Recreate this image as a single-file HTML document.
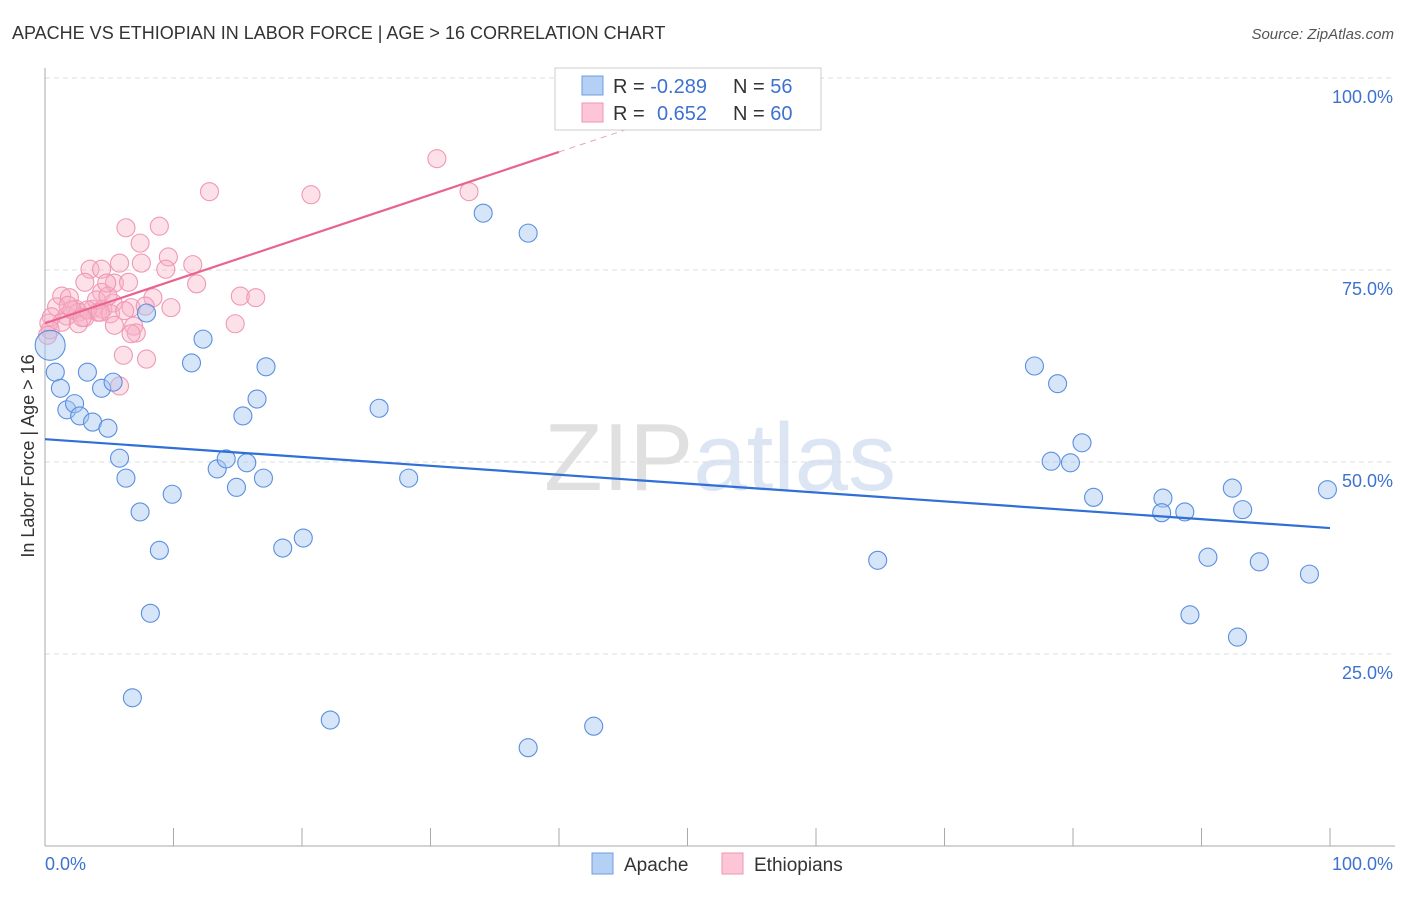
<!DOCTYPE html>
<html><head><meta charset="utf-8"><style>
body{margin:0;background:#fff;font-family:"Liberation Sans",sans-serif;}
svg text{font-family:"Liberation Sans",sans-serif;}
</style></head><body>
<svg width="1406" height="892" xmlns="http://www.w3.org/2000/svg">
<text x="12" y="39" font-size="18" fill="#333">APACHE VS ETHIOPIAN IN LABOR FORCE | AGE &gt; 16 CORRELATION CHART</text>
<text x="1394" y="39" font-size="15" fill="#555" font-style="italic" text-anchor="end">Source: ZipAtlas.com</text>
<text x="720" y="490" font-size="96" fill="#e4e4e4" text-anchor="middle" font-family="Liberation Serif"><tspan fill="#e0e0e0">ZIP</tspan><tspan fill="#dbe5f4" font-family="Liberation Sans">atlas</tspan></text>
<g id="grid"></g>
<g id="axes"></g>
<g id="marks"></g>
<text transform="translate(34,456) rotate(-90)" font-size="18" fill="#333" text-anchor="middle">In Labor Force | Age &gt; 16</text>
<g>
<rect x="555" y="68" width="266" height="62" fill="#fff" stroke="#ccc"/>
<rect x="582" y="76" width="21" height="19" fill="#b5d0f5" stroke="#6d9ee0"/>
<rect x="582" y="103" width="21" height="19" fill="#fcc6d6" stroke="#ef94b4"/>
<text x="613" y="93" font-size="20" fill="#333">R = <tspan fill="#3d72d0">-0.289</tspan><tspan x="733">N = </tspan><tspan fill="#3d72d0">56</tspan></text>
<text x="613" y="120" font-size="20" fill="#333">R = <tspan x="657" fill="#3d72d0">0.652</tspan><tspan x="733">N = </tspan><tspan fill="#3d72d0">60</tspan></text>
</g>
<g>
<rect x="592" y="853" width="21" height="21" fill="#b5d0f5" stroke="#6d9ee0"/>
<text x="624" y="871" font-size="19" fill="#333">Apache</text>
<rect x="722" y="853" width="21" height="21" fill="#fcc6d6" stroke="#ef94b4"/>
<text x="754" y="871" font-size="19" fill="#333">Ethiopians</text>
</g>
</svg>
<script>
const apacheX=[0.4,0.8,1.2,1.7,2.3,2.7,3.3,3.7,4.4,4.9,5.3,5.8,6.3,7.4,7.9,8.2,8.9,9.9,11.4,12.3,13.4,14.1,14.9,15.4,15.7,16.5,17.0,17.2,18.5,20.1,22.2,6.8,26.0,28.3,34.1,37.6,37.6,42.7,64.8,77.0,78.3,78.8,79.8,80.7,81.6,87.0,86.9,88.7,90.5,89.1,92.4,93.2,92.8,94.5,98.4,99.8];
const apacheY=[65.2,61.7,59.6,56.8,57.6,56.0,61.7,55.2,59.6,54.4,60.4,50.5,47.9,43.5,69.4,30.3,38.5,45.8,62.9,66.0,49.1,50.4,46.7,56.0,49.9,58.2,47.9,62.4,38.8,40.1,16.4,19.3,57.0,47.9,82.4,79.8,12.8,15.6,37.2,62.5,50.1,60.2,49.9,52.5,45.4,45.3,43.4,43.5,37.6,30.1,46.6,43.8,27.2,37.0,35.4,46.4];
const ethX=[12.8,20.7,30.5,33.0,6.3,8.9,7.4,9.6,5.8,7.5,11.5,3.5,4.4,9.4,11.8,5.4,3.1,6.5,4.4,8.4,15.2,16.4,1.3,1.9,0.9,2.4,3.7,4.5,5.3,6.7,9.8,0.5,1.7,2.6,3.1,4.1,5.1,6.2,1.3,2.6,5.4,6.9,7.1,0.3,0.4,14.8,6.1,7.9,5.8,0.2,4.0,3.3,2.1,4.9,7.8,1.8,4.8,4.3,2.9,6.7];
const ethY=[85.2,84.8,89.5,85.2,80.5,80.7,78.5,76.7,75.9,75.9,75.7,75.1,75.1,75.1,73.2,73.3,73.4,73.4,72.1,71.4,71.6,71.4,71.6,71.4,70.2,69.9,69.9,69.9,70.7,70.1,70.1,68.9,69.0,69.5,68.8,69.5,69.3,69.7,68.2,68.0,67.8,67.7,66.8,68.1,67.2,68.0,63.9,63.4,59.9,66.5,71.1,69.8,69.8,71.6,70.3,70.4,73.3,69.5,68.8,66.7];
const yTicks=[25,50,75,100];
const yTickLabels=["25.0%","50.0%","75.0%","100.0%"];
const xTicks=[0,10,20,30,40,50,60,70,80,90,100];
const NS="http://www.w3.org/2000/svg";
const sx=v=>45+v*12.85, sy=v=>846-v*7.68;
function mk(t,a,p){const e=document.createElementNS(NS,t);for(const k in a)e.setAttribute(k,a[k]);document.getElementById(p).appendChild(e);return e;}
yTicks.forEach((t,i)=>{
 const l=mk('line',{x1:45,x2:1395,y1:sy(t),y2:sy(t),stroke:'#ddd','stroke-dasharray':'5,4'},'grid');
 
 
 const tx=mk('text',{x:1393,y:sy(t)+25,'font-size':18,fill:'#3d72d0','text-anchor':'end'},'grid');
 tx.textContent=yTickLabels[i];
 
 
});
let ax=mk('line',{x1:45,x2:45,y1:68,y2:846,stroke:'#aaa'},'axes');


ax=mk('line',{x1:45,x2:1395,y1:846,y2:846,stroke:'#aaa'},'axes');


xTicks.forEach(t=>{
 const l=mk('line',{x1:sx(t),x2:sx(t),y1:828,y2:846,stroke:'#aaa'},'axes');
 
 
});
let t0=mk('text',{x:45,y:870,'font-size':18,fill:'#3d72d0'},'axes');t0.textContent='0.0%';


t0=mk('text',{x:1393,y:870,'font-size':18,fill:'#3d72d0','text-anchor':'end'},'axes');t0.textContent='100.0%';


function fit(X,Y){const n=X.length;let mx=0,my=0;for(let i=0;i<n;i++){mx+=X[i];my+=Y[i];}mx/=n;my/=n;let a=0,b=0;for(let i=0;i<n;i++){a+=(X[i]-mx)*(Y[i]-my);b+=(X[i]-mx)**2;}const s=a/b;return [s,my-s*mx];}
function pts(X,Y,fill,stroke,name){X.forEach((x,i)=>{const r=(name==='apache-point'&&i===0)?15:9;
 const c=mk('circle',{cx:sx(x),cy:sy(Y[i]),r:r,fill:fill,stroke:stroke,'stroke-width':1.1},'marks');
 
 });}
pts(ethX,ethY,'rgba(248,175,198,0.38)','#f097b6','ethiopian-point');
pts(apacheX,apacheY,'rgba(165,198,240,0.45)','#5a8fe0','apache-point');
let [s1,b1]=fit(apacheX,apacheY);
let tl=mk('line',{x1:sx(0),y1:sy(b1),x2:sx(100),y2:sy(b1+100*s1),stroke:'#2f6fd6','stroke-width':2.2},'marks');


let [s2,b2]=fit(ethX,ethY);
tl=mk('line',{x1:sx(0),y1:sy(b2),x2:sx(40),y2:sy(b2+40*s2),stroke:'#e8648f','stroke-width':2.2},'marks');


tl=mk('line',{x1:sx(40),y1:sy(b2+40*s2),x2:sx(55),y2:sy(b2+55*s2),stroke:'#f0a0bb','stroke-width':1,'stroke-dasharray':'6,5'},'marks');


</script>
</body></html>
